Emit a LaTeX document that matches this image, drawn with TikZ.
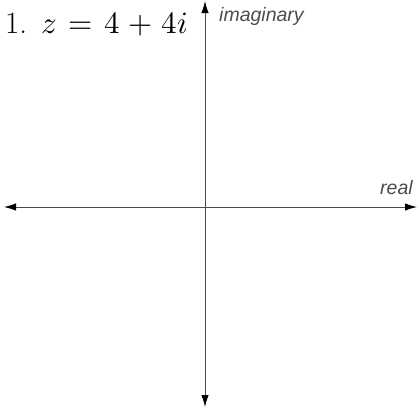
\documentclass[tikz,border=0pt]{standalone}
\usepackage{fontspec}
\usepackage{unicode-math}
\setmathfont{Latin Modern Math}
\newfontfamily\axisfont{Liberation Sans}
\usetikzlibrary{arrows.meta}
\begin{document}
\begin{tikzpicture}[x=1pt,y=-1pt,
  axis/.style={draw=black!70,line width=1pt,-{Latex[length=12pt,width=7.5pt,black]}},
  axlabel/.style={font=\axisfont\itshape\fontsize{19.5}{19.5}\selectfont,text=black!70,inner sep=0pt,anchor=base west}]
\useasboundingbox (0,0) rectangle (420,408);
\coordinate (top) at (205,1);
\coordinate (bottom) at (205,407);
\coordinate (left) at (4,207);
\coordinate (right) at (417,207);
\coordinate (c) at (205,207);
\draw[axis] (c) -- (top);
\draw[axis] (c) -- (bottom);
\draw[axis] (c) -- (left);
\draw[axis] (c) -- (right);
\node[axlabel] (im) at (219,21) {imaginary};
\node[axlabel] (re) at (380,194) {real};
\node[inner sep=0pt,anchor=base west,font=\fontsize{31}{31}\selectfont] (q) at (5,33) {1.\hspace{0.45em}$z\mskip2mu=\mskip2mu4\mskip1mu+\mskip1mu4i$};
\end{tikzpicture}
\end{document}
